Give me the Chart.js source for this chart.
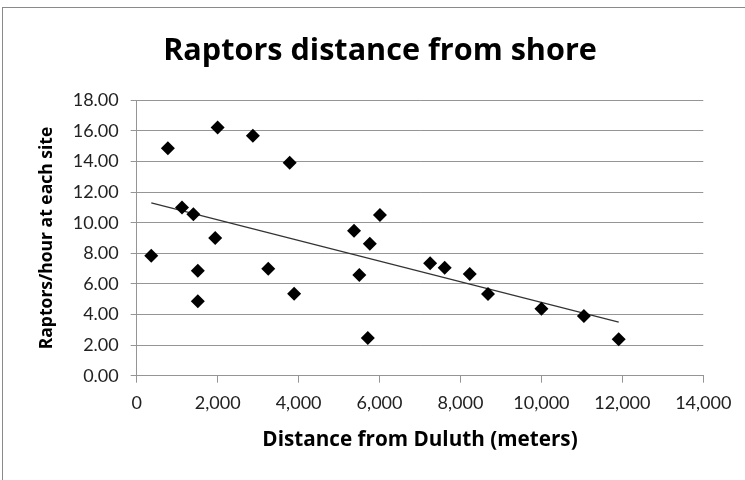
<!DOCTYPE html>
<html>
<head>
<meta charset="utf-8">
<script src="https://cdn.jsdelivr.net/npm/chart.js@4"></script>
<style>
    body { margin: 0; background: #fff; }
    #frame { position: absolute; left: 2px; top: 7px; width: 800px; height: 600px;
             border-left: 1px solid #8a8a8a; border-top: 1px solid #8a8a8a; }
    #wrap { position: absolute; left: 0; top: 0; width: 745px; height: 480px; }
</style>
</head>
<body>
<div id="frame"></div>
<div id="wrap"><canvas id="raptorChart"></canvas></div>
<script>
// Survey sites: distance from Duluth (m) and raptors counted per hour
const distance = [360, 770, 1120, 1400, 1510, 1510, 1940, 2000, 2870, 3250, 3780, 3890,
                  5370, 5500, 5710, 5760, 6010, 7250, 7610, 8230, 8680, 10000, 11050, 11910];
const rate = [7.84, 14.86, 11.00, 10.55, 6.86, 4.86, 9.00, 16.23, 15.69, 6.99, 13.92, 5.36,
              9.48, 6.58, 2.46, 8.63, 10.50, 7.35, 7.06, 6.65, 5.34, 4.38, 3.90, 2.38];

// Linear trendline end points
const trendX = [360, 11910];
const trendY = [11.30, 3.50];

const xTicks = [0, 2000, 4000, 6000, 8000, 10000, 12000, 14000];
const yTicks = [0, 2, 4, 6, 8, 10, 12, 14, 16, 18];

const GRID = '#959595';
const TEXT = '#222222';
const TITLE_FONT = '"Open Sans", Lato, sans-serif';

Chart.defaults.font.family = 'Lato, "Open Sans", sans-serif';
Chart.defaults.color = TEXT;

const ctx = document.getElementById('raptorChart').getContext('2d');
new Chart(ctx, {
    type: 'scatter',
    data: {
        datasets: [
            {
                label: 'Raptors/hour',
                data: distance.map((d, i) => ({ x: d, y: rate[i] })),
                pointStyle: 'rectRot',
                pointRadius: 7,
                pointHoverRadius: 7,
                backgroundColor: '#000',
                borderColor: '#000',
                borderWidth: 0
            },
            {
                label: 'Linear trend',
                type: 'line',
                data: trendX.map((d, i) => ({ x: d, y: trendY[i] })),
                borderColor: '#333333',
                borderWidth: 1.2,
                pointRadius: 0,
                fill: false
            }
        ]
    },
    options: {
        responsive: true,
        maintainAspectRatio: false,
        animation: false,
        layout: { padding: { left: 15, right: 0, top: 0, bottom: 0 } },
        plugins: {
            legend: { display: false },
            tooltip: { enabled: false },
            title: {
                display: true,
                text: 'Raptors distance from shore',
                color: '#000',
                font: { family: TITLE_FONT, size: 30.6, weight: 'bold', lineHeight: 1.2 },
                padding: { top: 33.2, bottom: 30.4 }
            }
        },
        scales: {
            x: {
                type: 'linear',
                min: 0,
                max: 14000,
                afterBuildTicks: s => { s.ticks = xTicks.map(v => ({ value: v })); },
                afterFit: s => { s.height = 104.3; },
                grid: { drawOnChartArea: false, drawTicks: true, tickLength: 7, color: GRID },
                border: { display: true, color: GRID },
                ticks: {
                    padding: 10,
                    font: { size: 18 },
                    callback: v => v.toLocaleString('en-US')
                },
                title: {
                    display: true,
                    text: 'Distance from Duluth (meters)',
                    color: '#000',
                    font: { family: TITLE_FONT, size: 20.7, weight: 'bold' },
                    padding: { top: 0, bottom: 27.6 }
                }
            },
            y: {
                min: 0,
                max: 18,
                afterBuildTicks: s => { s.ticks = yTicks.map(v => ({ value: v })); },
                afterFit: s => { s.width = 121.7; },
                grid: { color: GRID, tickLength: 6 },
                border: { display: true, color: GRID },
                ticks: {
                    padding: 12,
                    font: { size: 18 },
                    callback: v => v.toFixed(2)
                },
                title: {
                    display: true,
                    text: 'Raptors/hour at each site',
                    color: '#000',
                    font: { family: TITLE_FONT, size: 17.5, weight: 'bold' },
                    padding: { top: 21.5, bottom: 0 }
                }
            },
            // empty axis that reserves the blank margin right of the plot
            yRight: {
                position: 'right',
                grid: { display: false },
                border: { display: false },
                ticks: { display: false },
                afterFit: s => { s.width = 41.7; }
            }
        }
    }
});
</script>
</body>
</html>
